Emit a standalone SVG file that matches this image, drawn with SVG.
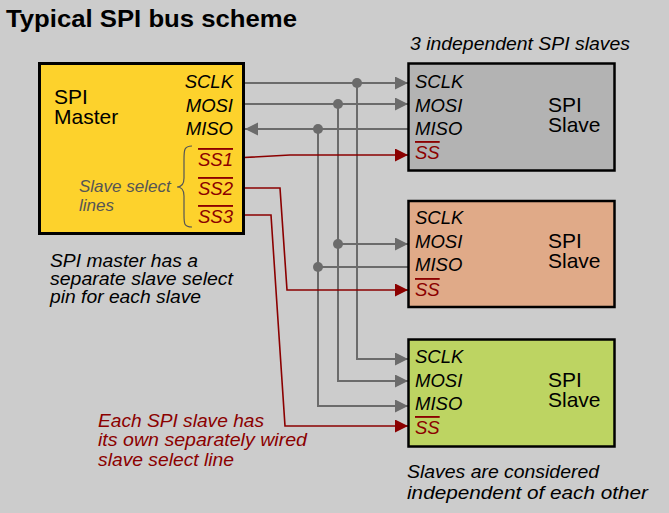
<svg xmlns="http://www.w3.org/2000/svg" width="669" height="513" viewBox="0 0 669 513">
<style>
text{font-family:"Liberation Sans",Arial,sans-serif;}
.t{font-weight:bold;font-size:24px;fill:#000;}
.big{font-size:21px;fill:#000;}
.pin{font-size:18.5px;font-style:italic;fill:#000;}
.ss{font-size:18.5px;font-style:italic;fill:#8b0000;text-decoration:overline;}
.note{font-size:19px;font-style:italic;fill:#000;}
.rnote{font-size:19px;font-style:italic;fill:#8b0000;}
.gnote{font-size:17px;font-style:italic;fill:#555;}
.box{stroke:#000;stroke-width:3;}
.g{fill:none;stroke:#6b6b6b;stroke-width:2;}
.r{fill:none;stroke:#8b0000;stroke-width:1.6;}
.dot{fill:#6b6b6b;}
</style>
<defs>
<marker id="ag" markerUnits="userSpaceOnUse" markerWidth="14" markerHeight="14" refX="13" refY="6.5" orient="auto"><path d="M0,0 L13,6.5 L0,13 z" fill="#6b6b6b"/></marker>
<marker id="ar" markerUnits="userSpaceOnUse" markerWidth="14" markerHeight="14" refX="13" refY="6.5" orient="auto"><path d="M0,0 L13,6.5 L0,13 z" fill="#8b0000"/></marker>
</defs>
<rect x="0" y="0" width="669" height="513" fill="#cccccc"/>
<text class="t" x="6" y="27" textLength="291" lengthAdjust="spacingAndGlyphs">Typical SPI bus scheme</text>
<text class="note" x="410" y="50" textLength="220" lengthAdjust="spacingAndGlyphs">3 independent SPI slaves</text>

<g id="connectors">
<path class="g" d="M244,83 H408" marker-end="url(#ag)"/>
<path class="g" d="M244,104 H408" marker-end="url(#ag)"/>
<path class="g" d="M408,129 H245" marker-end="url(#ag)"/>
<path class="g" d="M357,83 V359 H408" marker-end="url(#ag)"/>
<path class="g" d="M338,104 V381 H408" marker-end="url(#ag)"/>
<path class="g" d="M318,129 V406 H408" marker-end="url(#ag)"/>
<path class="g" d="M338,244 H408" marker-end="url(#ag)"/>
<path class="g" d="M318,267 H408"/>
<circle class="dot" cx="357" cy="83" r="5"/>
<circle class="dot" cx="338" cy="104" r="5"/>
<circle class="dot" cx="318" cy="129" r="5"/>
<circle class="dot" cx="338" cy="244" r="5"/>
<circle class="dot" cx="318" cy="267" r="5"/>
<path class="r" d="M244,157.5 L290,155 H408" marker-end="url(#ar)"/>
<path class="r" d="M244,188 H280 L287,290 H408" marker-end="url(#ar)"/>
<path class="r" d="M244,215 H271 L285,426 H408" marker-end="url(#ar)"/>
</g>

<g id="master">
<rect class="box" x="39.5" y="63.5" width="204" height="170" fill="#fdd22c"/>
<text class="big" x="54" y="104">SPI</text>
<text class="big" x="54" y="124">Master</text>
<text class="pin" x="233" y="88" text-anchor="end">SCLK</text>
<text class="pin" x="233" y="112" text-anchor="end">MOSI</text>
<text class="pin" x="233" y="135" text-anchor="end">MISO</text>
<text class="ss" x="233" y="166" text-anchor="end">SS1</text>
<text class="ss" x="233" y="195" text-anchor="end">SS2</text>
<text class="ss" x="233" y="223" text-anchor="end">SS3</text>
<path d="M192,146 C184,146 184,150 184,160 L184,178 C184,184 182,187 177,187 C182,187 184,190 184,196 L184,214 C184,224 184,227 192,227" fill="none" stroke="#555" stroke-width="1.2"/>
<text class="gnote" x="79" y="192">Slave select</text>
<text class="gnote" x="79" y="211">lines</text>
</g>

<g id="slave1">
<rect x="408.5" y="63.5" width="206" height="107" fill="#b3b3b3" stroke="#000" stroke-width="2.5"/>
<text class="pin" x="415" y="88">SCLK</text>
<text class="pin" x="415" y="112">MOSI</text>
<text class="pin" x="415" y="135">MISO</text>
<text class="ss" x="415" y="159">SS</text>
<text class="big" x="548" y="112">SPI</text>
<text class="big" x="548" y="132">Slave</text>
</g>

<g id="slave2">
<rect x="408.5" y="201" width="206" height="106" fill="#e0aa88" stroke="#000" stroke-width="2.5"/>
<text class="pin" x="415" y="224">SCLK</text>
<text class="pin" x="415" y="248">MOSI</text>
<text class="pin" x="415" y="271">MISO</text>
<text class="ss" x="415" y="296">SS</text>
<text class="big" x="548" y="248">SPI</text>
<text class="big" x="548" y="268">Slave</text>
</g>

<g id="slave3">
<rect x="408.5" y="339.5" width="206" height="107" fill="#bdd462" stroke="#000" stroke-width="2.5"/>
<text class="pin" x="415" y="363">SCLK</text>
<text class="pin" x="415" y="387">MOSI</text>
<text class="pin" x="415" y="410">MISO</text>
<text class="ss" x="415" y="434">SS</text>
<text class="big" x="548" y="387">SPI</text>
<text class="big" x="548" y="407">Slave</text>
</g>

<text class="note" x="50" y="267" textLength="148" lengthAdjust="spacingAndGlyphs">SPI master has a</text>
<text class="note" x="50" y="285" textLength="183" lengthAdjust="spacingAndGlyphs">separate slave select</text>
<text class="note" x="50" y="303" textLength="151" lengthAdjust="spacingAndGlyphs">pin for each slave</text>
<text class="rnote" x="98" y="427" textLength="166" lengthAdjust="spacingAndGlyphs">Each SPI slave has</text>
<text class="rnote" x="98" y="446" textLength="209" lengthAdjust="spacingAndGlyphs">its own separately wired</text>
<text class="rnote" x="98" y="466" textLength="136" lengthAdjust="spacingAndGlyphs">slave select line</text>
<text class="note" x="407" y="478" textLength="192" lengthAdjust="spacingAndGlyphs">Slaves are considered</text>
<text class="note" x="407" y="499" textLength="241" lengthAdjust="spacingAndGlyphs">independent of each other</text>
</svg>
